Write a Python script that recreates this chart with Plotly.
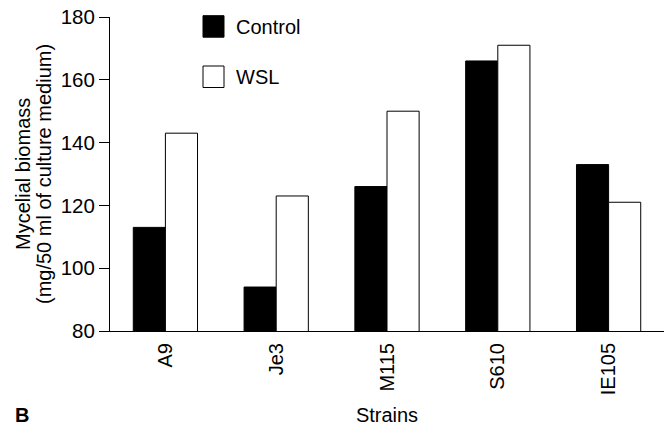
import plotly.graph_objects as go

strains = ["A9", "Je3", "M115", "S610", "IE105"]
control = [113, 94, 126, 166, 133]
wsl = [143, 123, 150, 171, 121]
y_ticks = [80, 100, 120, 140, 160, 180]

FONT = "Liberation Sans, Arial, sans-serif"
W, H = 669, 426
ML, MR, MT, MB = 110, 5, 17, 95
PW, PH = W - ML - MR, H - MT - MB


def px_x(px):
    return (px - ML) / PW


def px_y(py):
    return (H - MB - py) / PH


fig = go.Figure()
fig.add_trace(go.Bar(x=strains, y=control, name="Control", marker=dict(color="black", line=dict(color="black", width=1)), showlegend=False))
fig.add_trace(go.Bar(x=strains, y=wsl, name="WSL", marker=dict(color="white", line=dict(color="black", width=1)), showlegend=False))

# legend swatches + labels
shapes = []
annotations = []
for (name, fill, top) in [("Control", "black", 15.7), ("WSL", "white", 66)]:
    shapes.append(dict(type="rect", xref="paper", yref="paper",
                       x0=px_x(203), x1=px_x(224), y0=px_y(top + 21.5), y1=px_y(top),
                       fillcolor=fill, line=dict(color="black", width=1)))
    annotations.append(dict(text=name, xref="paper", yref="paper", x=px_x(234), y=px_y(top + 11),
                            xanchor="left", yanchor="middle", showarrow=False,
                            font=dict(size=20, color="black", family=FONT)))

# y-axis title (two lines)
annotations.append(dict(text="Mycelial biomass", xref="paper", yref="paper", x=0, y=0.5,
                        xshift=23 - ML, xanchor="center", yanchor="middle", textangle=-90,
                        showarrow=False, font=dict(size=20, color="black", family=FONT)))
annotations.append(dict(text="(mg/50 ml of culture medium)", xref="paper", yref="paper", x=0, y=0.5,
                        xshift=44 - ML, xanchor="center", yanchor="middle", textangle=-90,
                        showarrow=False, font=dict(size=20, color="black", family=FONT)))
# panel letter
annotations.append(dict(text="<b>B</b>", xref="paper", yref="paper", x=px_x(21.5), y=px_y(415),
                        xanchor="center", yanchor="middle", showarrow=False,
                        font=dict(size=20, color="black", family=FONT)))

fig.update_layout(
    width=W, height=H,
    margin=dict(l=ML, r=MR, t=MT, b=MB, pad=0),
    paper_bgcolor="white", plot_bgcolor="white",
    barmode="group", bargap=0.42, bargroupgap=0,
    font=dict(family=FONT, size=20, color="black"),
    shapes=shapes, annotations=annotations,
    xaxis=dict(range=[-0.5, 4.5], showline=True, linecolor="black", linewidth=1,
               showgrid=False, zeroline=False, ticks="", tickangle=-90, ticklabelstandoff=3,
               tickfont=dict(size=20, family=FONT, color="black"),
               title=dict(text="Strains", standoff=13, font=dict(size=20, family=FONT, color="black"))),
    yaxis=dict(range=[80, 180], tickvals=y_ticks, showline=True, linecolor="black", linewidth=1,
               showgrid=False, zeroline=False, ticks="outside", ticklen=10, tickwidth=1,
               tickcolor="black", tickfont=dict(size=20.5, family=FONT, color="black")),
    yaxis2=dict(range=[80, 180], tickvals=y_ticks, overlaying="y", side="left",
                showline=False, showgrid=False, zeroline=False, ticks="inside", ticklen=10,
                tickwidth=1, tickcolor="black", showticklabels=False),
)

fig.write_html("out.html", config={"displayModeBar": False},
               post_script="document.body.style.margin='0';document.body.style.overflow='hidden';")
